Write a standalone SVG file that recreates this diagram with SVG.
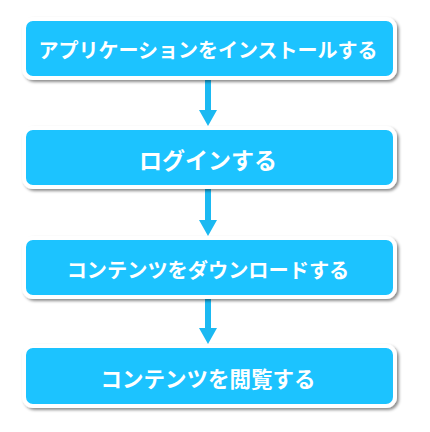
<svg xmlns="http://www.w3.org/2000/svg" width="430" height="432" viewBox="0 0 430 432">
<style>
.box{fill:#1BC3FF;stroke:#FFFFFF;stroke-width:4;filter:url(#sh)}
.lbl{fill:#FFFFFF;font-family:"Noto Sans CJK JP","Noto Sans",sans-serif;font-weight:bold;font-size:20px;text-anchor:middle}
.arr{stroke:#1BB9F2;stroke-width:6;fill:none}
.head{fill:#1BB9F2}
</style>
<defs>
<filter id="sh" x="-5%" y="-20%" width="112%" height="150%">
<feDropShadow dx="2" dy="2" stdDeviation="1.6" flood-color="#000000" flood-opacity="0.45"/>
</filter>
</defs>
<g id="connectors">
<line class="arr" x1="208" y1="80" x2="208" y2="112"/>
<polygon class="head" points="199,110 217,110 208,126"/>
<line class="arr" x1="208" y1="189" x2="208" y2="222"/>
<polygon class="head" points="199,220 217,220 208,236"/>
<line class="arr" x1="208" y1="299" x2="208" y2="330"/>
<polygon class="head" points="199,328 217,328 208,344"/>
</g>
<g id="node1">
<rect class="box" x="24" y="19" width="371" height="59" rx="9"/>
<text class="lbl" x="208" y="58">アプリケーションをインストールする</text>
</g>
<g id="node2">
<rect class="box" x="24" y="128" width="371" height="59" rx="9"/>
<text class="lbl" x="208" y="169" style="font-size:23px">ログインする</text>
</g>
<g id="node3">
<rect class="box" x="24" y="238" width="371" height="59" rx="9"/>
<text class="lbl" x="208" y="278" style="font-size:20.2px">コンテンツをダウンロードする</text>
</g>
<g id="node4">
<rect class="box" x="24" y="346" width="371" height="60" rx="9"/>
<text class="lbl" x="208" y="387" style="font-size:21.5px">コンテンツを閲覧する</text>
</g>
</svg>
